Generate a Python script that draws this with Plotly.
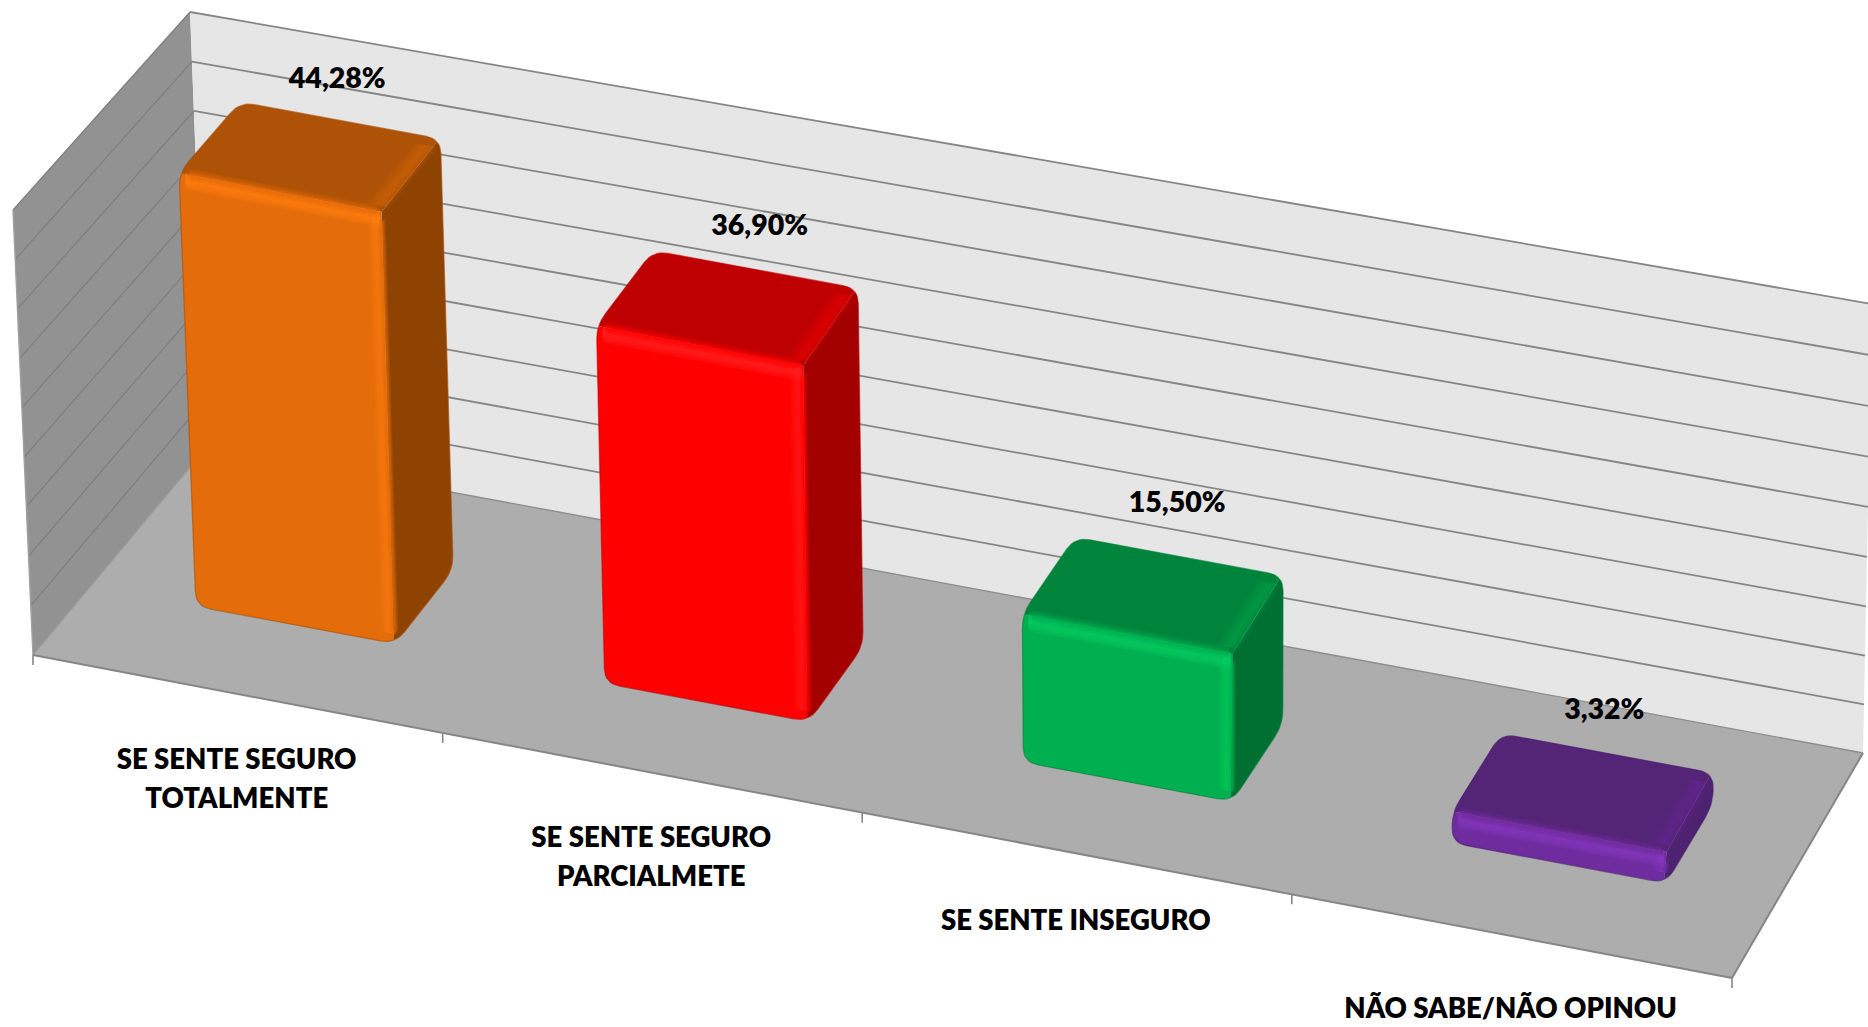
import numpy as np
import plotly.graph_objects as go

# ---------- data ----------
categories = ["SE SENTE SEGURO<br>TOTALMENTE", "SE SENTE SEGURO<br>PARCIALMETE",
              "SE SENTE INSEGURO", "NÃO SABE/NÃO OPINOU"]
values = [44.28, 36.90, 15.50, 3.32]
value_labels = ["44,28%", "36,90%", "15,50%", "3,32%"]
axis_max = 45
grid_step = 5
front_colors = ["#E46C0A", "#FF0000", "#00B050", "#6E2C9E"]
top_colors = ["#AD5206", "#BF0000", "#00843C", "#542476"]
side_colors = ["#8F4303", "#A30000", "#006F32", "#4E2270"]
glow_colors = ["#FF7F10", "#FF2020", "#08CC60", "#8438BC"]
rim_colors = ["#A85004", "#C00000", "#00803A", "#4A1E6C"]

# ---------- the tilted chart box: a 3-D view of the category/depth/value axes ----------
WALL_BACK, WALL_LEFT, FLOOR, LINE = "#E6E6E6", "#929292", "#ADADAD", "#868686"
A, B, C, D = map(np.array, [(33., 655.), (1732., 978.), (1863., 753.), (207., 447.)])
At, Bt, Ct, Dt = map(np.array, [(13., 210.), (1743., 563.), (1872., 304.), (190., 12.)])
U_PERSP, Z_PERSP = 1.049, -0.03
FONT = "Lato"
value_label_shift = [(31, -76), (36, -80), (28, -91), (25, -81)]
category_label_shift = [68, 68, 70, 75]


def P(x, v, z):
    u = x / len(categories)
    su = u / (u + U_PERSP * (1 - u)) if u > 0 else 0.0
    t = z / axis_max
    a = Z_PERSP * v
    st = t * (1 + a) / (1 + a * t)
    low = (1 - su) * (1 - v) * A + su * (1 - v) * B + su * v * C + (1 - su) * v * D
    top = (1 - su) * (1 - v) * At + su * (1 - v) * Bt + su * v * Ct + (1 - su) * v * Dt
    return (1 - st) * low + st * top


def rgba(h, a):
    return f"rgba({int(h[1:3],16)},{int(h[3:5],16)},{int(h[5:7],16)},{a})"


fig = go.Figure()


def poly(pts, fill, line=None, lw=0):
    pts = list(pts) + [pts[0]]
    fig.add_trace(go.Scatter(
        x=[p[0] for p in pts], y=[p[1] for p in pts], mode="lines", fill="toself",
        fillcolor=fill, line=dict(color=line or "rgba(0,0,0,0)", width=lw),
        hoverinfo="skip", showlegend=False))


def seg(p, q, color=LINE, w=1.6):
    fig.add_trace(go.Scatter(x=[p[0], q[0]], y=[p[1], q[1]], mode="lines",
                             line=dict(color=color, width=w), hoverinfo="skip", showlegend=False))


def arc(prev, V, nxt, r, n=8):
    d1 = prev - V
    d2 = nxt - V
    r1 = min(r / np.linalg.norm(d1), .45)
    r2 = min(r / np.linalg.norm(d2), .45)
    a, b = V + d1 * r1, V + d2 * r2
    return [(1 - s) ** 2 * a + 2 * s * (1 - s) * V + s ** 2 * b for s in np.linspace(0, 1, n + 1)]


def unit(p):
    return p / np.linalg.norm(p)


def band(p0, p1, off, center, half, color, peak, trim0=0, trim1=0, steps=5):
    """Soft strip along p0-p1, offset by `off`, fading from its centre outwards."""
    dirn = unit(p1 - p0)
    a = p0 + dirn * trim0
    b = p1 - dirn * trim1
    for s in range(steps):
        w = half * (1 - s / steps)
        poly([a + off * (center - w), b + off * (center - w), b + off * (center + w), a + off * (center + w)],
             rgba(color, round(peak / steps * 1.6, 3)))


# ---------- walls and floor ----------
n = len(categories)
poly([P(0, 0, 0), P(0, 1, 0), P(0, 1, axis_max), P(0, 0, axis_max)], WALL_LEFT)
poly([P(0, 1, 0), P(n, 1, 0), P(n, 1, axis_max), P(0, 1, axis_max)], WALL_BACK)
poly([P(0, 0, 0), P(n, 0, 0), P(n, 1, 0), P(0, 1, 0)], FLOOR)
for z in range(0, axis_max + 1, grid_step):
    if z > 0:
        seg(P(0, 1, z), P(n, 1, z), LINE, 1.8)
        seg(P(0, 0, z), P(0, 1, z), "#7E7E7E", 1.2)
seg(P(0, 0, 0), P(0, 0, axis_max), "#A0A0A0", 1.4)
seg(P(0, 1, 0), P(n, 1, 0), "#8E8E8E", 1.4)
seg(P(0, 0, 0), P(0, 1, 0), "#9A9A9A", 1.2)
seg(P(0, 0, 0), P(n, 0, 0), LINE, 2)
seg(P(n, 0, 0), P(n, 1, 0), LINE, 2)
for i in range(n + 1):
    p = P(i, 0, 0)
    seg(p, p + np.array([0, 10]), LINE, 1.6)

# ---------- bars ----------
BAR_X0, BAR_X1, V0, V1 = .262, .752, .33, .68
for i, val in enumerate(values):
    x0, x1 = i + BAR_X0, i + BAR_X1
    FBL, FBR, BBR = P(x0, V0, 0), P(x1, V0, 0), P(x1, V1, 0)
    TFL, TFR, TBR, TBL = P(x0, V0, val), P(x1, V0, val), P(x1, V1, val), P(x0, V1, val)
    sil = [FBL, FBR, BBR, TBR, TBL, TFL]
    R = 15
    arcs = [arc(sil[k - 1], sil[k], sil[(k + 1) % 6], R) for k in range(6)]
    a_fbl, a_fbr, a_bbr, a_tbr, a_tbl, a_tfl = arcs
    front = a_tfl[4:] + a_fbl + a_fbr[:5] + [TFR]
    side = a_fbr[4:] + a_bbr + a_tbr[:5] + [TFR]
    top = a_tbr[4:] + a_tbl + a_tfl[:5] + [TFR]
    poly(side, side_colors[i])
    poly(top, top_colors[i])
    poly(front, front_colors[i])

    ex = unit(TFR - TFL)
    ey = unit(FBL - TFL)
    dz = unit(TBR - TFR)
    ey2 = unit(FBR - TFR)
    glow = glow_colors[i]
    h = np.linalg.norm(FBL - TFL)
    # soft highlight straddling the front/top edge
    band(TFL, TFR, ey, min(7, h * .3), min(9, h * .3), glow, .85, 6, 2)
    band(TFL, TFR, -ey * .9, 0, 7, front_colors[i], .5, 10, 4)
    # soft highlight straddling the front/side edge
    band(TFR, FBR, -ex, 6, 8, glow, .5, 10, 10)
    band(TFR, FBR, unit(BBR - FBR), 0, 6, front_colors[i], .55, 10, 10)
    # softened edge between the top and side faces
    band(TFR, TBR, -ex, 8, 12, front_colors[i], .32, 6, 10)
    # bright spot on the near top corner
    spot = TFR - ex * 6 + ey * 8
    fig.add_trace(go.Scatter(x=[spot[0]], y=[spot[1]], mode="markers",
                             marker=dict(size=9, color=rgba(glow, .55), line=dict(width=0)),
                             hoverinfo="skip", showlegend=False))
    # thin darker rim round the outline
    outline = sum(arcs, [])
    outline.append(outline[0])
    fig.add_trace(go.Scatter(x=[p[0] for p in outline], y=[p[1] for p in outline], mode="lines",
                             line=dict(color=rgba(rim_colors[i], .6), width=1.3),
                             hoverinfo="skip", showlegend=False))

# ---------- text ----------
tops = [P(i + .5, .5, v) for i, v in enumerate(values)]
fig.add_trace(go.Scatter(
    x=[p[0] + s[0] for p, s in zip(tops, value_label_shift)],
    y=[p[1] + s[1] for p, s in zip(tops, value_label_shift)],
    mode="text", text=value_labels, textposition="middle center",
    textfont=dict(family=FONT, size=28.5, color="#000000", weight=800),
    hoverinfo="skip", showlegend=False, cliponaxis=False))

tx, ty, tt = [], [], []
for i, c in enumerate(categories):
    base = P(i + .5, 0, 0)
    for k, line in enumerate(c.split("<br>")):
        tx.append(base[0])
        ty.append(base[1] + category_label_shift[i] + 39 * k)
        tt.append(line)
fig.add_trace(go.Scatter(
    x=tx, y=ty, mode="text", text=tt, textposition="middle center",
    textfont=dict(family=FONT, size=27.5, color="#000000", weight=800),
    hoverinfo="skip", showlegend=False, cliponaxis=False))

fig.update_layout(
    width=1868, height=1027, margin=dict(l=0, r=0, t=0, b=0),
    paper_bgcolor="white", plot_bgcolor="white", showlegend=False,
    xaxis=dict(range=[0, 1868], visible=False, fixedrange=True),
    yaxis=dict(range=[1027, 0], visible=False, fixedrange=True),
)
fig.write_html("out.html", config=dict(displayModeBar=False),
               post_script="document.body.style.margin='0';document.body.style.overflow='hidden';")
